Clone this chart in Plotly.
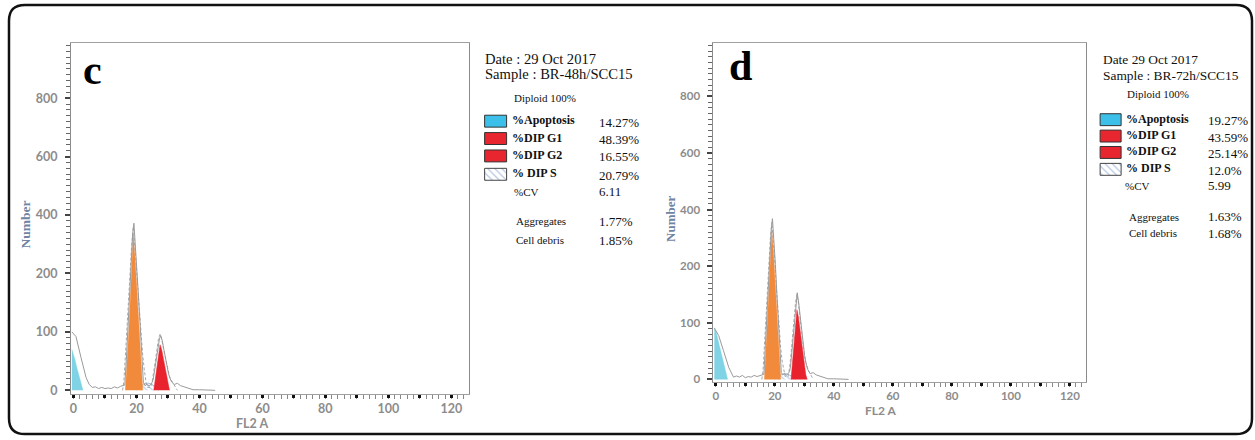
import plotly.graph_objects as go

W, H = 1255, 440

# ------------------------------------------------------------------
# DATA  (FL2 A channel vs Number of events)
# ------------------------------------------------------------------
# Panel c : BR-48h/SCC15
c_apo_x = [-0.5, 0, 0.5, 1, 1.5, 2, 2.5, 3]
c_apo_y = [70, 62, 52, 40, 30, 20, 10, 0]
c_g1_x = [16.5, 17, 17.5, 18, 18.5, 19, 19.5, 20, 20.5, 21, 21.5, 22]
c_g1_y = [0, 40, 95, 150, 206, 334, 262, 184, 138, 92, 46, 0]
c_g2_x = [25.5, 26, 26.5, 27, 27.5, 28, 28.5, 29, 29.5, 30, 30.5]
c_g2_y = [0, 18, 38, 60, 78, 70, 55, 40, 25, 10, 0]
c_s_x = [20, 21, 22, 23, 24, 25, 26, 27]
c_s_y = [0, 6, 10, 12, 12, 10, 6, 0]
c_raw_x = [-0.5, 0.8, 2.4, 4, 5, 6, 7, 8, 9, 10, 11, 12, 13, 14, 15, 15.8,
           16.3, 16.8, 17.3, 17.8, 18.3, 18.8, 19.2, 19.7, 20.2, 20.7, 21.2,
           21.7, 22.2, 22.7, 23.2, 24, 24.5, 25, 25.3, 25.8, 26.3, 26.8, 27.3,
           27.7, 28.2, 28.7, 29.2, 29.7, 30.2, 30.7, 31.2, 32, 33, 34, 35, 36,
           37, 38, 40, 42, 45]
c_raw_y = [100, 92, 56, 22, 10, 5, 6, 3, 5, 3, 4, 3, 6, 4, 7, 8,
           9, 53, 107, 160, 228, 334, 372, 296, 204, 156, 110,
           64, 14, 8, 10, 8, 10, 14, 18, 35, 55, 72, 88,
           94, 85, 70, 55, 40, 28, 20, 14, 10, 12, 8, 6, 4,
           2, 1, 1, 1, 0]
c_fit_x = [15.6, 16, 16.5, 17, 17.5, 18, 18.5, 19, 19.5, 20, 20.5, 21, 21.5,
           22, 22.5, 23, 23.5, 24.5, 25, 25.5, 26, 26.5, 27, 27.5, 28, 28.5,
           29, 29.5, 30, 30.5, 31, 31.5, 32, 32.5, 33]
c_fit_y = [0, 15, 60, 110, 160, 215, 300, 360, 300, 220, 170, 130, 95,
           60, 35, 15, 5, 5, 15, 30, 50, 70, 88, 96, 88, 74,
           60, 46, 34, 24, 18, 14, 10, 5, 0]

# Panel d : BR-72h/SCC15
d_apo_x = [-0.5, 0, 0.5, 1, 1.5, 2, 2.5, 3, 3.5, 4]
d_apo_y = [91, 85, 75, 62, 52, 42, 32, 20, 8, 0]
d_g1_x = [16.5, 17, 17.5, 18, 18.5, 19, 19.5, 20, 20.5, 21, 21.5, 22]
d_g1_y = [0, 49, 98, 147, 200, 327, 255, 181, 132, 83, 34, 0]
d_g2_x = [25.5, 26, 26.5, 27, 27.5, 28, 28.5, 29, 29.5, 30, 30.5, 31]
d_g2_y = [0, 30, 58, 90, 123, 110, 90, 70, 50, 30, 8, 0]
d_s_x = [20, 21, 22, 23, 24, 25, 26, 27]
d_s_y = [0, 5, 8, 10, 10, 8, 5, 0]
d_raw_x = [-0.5, 1.0, 2.6, 4.4, 6, 7, 8, 9, 10, 11, 12, 13, 14, 15, 15.8,
           16.3, 16.8, 17.3, 17.8, 18.3, 18.8, 19.2, 19.7, 20.2, 20.7, 21.2,
           21.7, 22.2, 22.7, 23.2, 24, 24.5, 25, 25.3, 25.8, 26.3, 26.8, 27.3,
           27.6, 28.1, 28.6, 29.1, 29.6, 30.1, 30.6, 31.1, 32, 33, 34, 35, 36,
           37, 38, 40, 42, 45]
d_raw_y = [91, 77, 51, 21, 4, 6, 4, 7, 3, 5, 4, 7, 5, 7, 8,
           9, 60, 115, 170, 240, 330, 368, 300, 206, 150, 100,
           55, 12, 8, 10, 8, 10, 14, 22, 50, 80, 110, 140,
           153, 135, 110, 85, 62, 42, 28, 18, 10, 12, 8, 6, 4,
           2, 1, 1, 1, 0]
d_fit_x = [15.6, 16, 16.5, 17, 17.5, 18, 18.5, 19, 19.5, 20, 20.5, 21, 21.5,
           22, 22.5, 23, 23.5, 24.5, 25, 25.5, 26, 26.5, 27, 27.5, 28, 28.5,
           29, 29.5, 30, 30.5, 31, 31.5, 32, 32.5, 33]
d_fit_y = [0, 15, 62, 115, 165, 220, 300, 355, 295, 215, 165, 125, 90,
           55, 32, 14, 5, 5, 20, 45, 75, 105, 135, 150, 135, 110,
           85, 62, 44, 30, 20, 14, 10, 5, 0]

# tick labels
y_tick_labels = [0, 100, 200, 400, 600, 800]
x_tick_values = [0, 10, 20, 30, 40, 50, 60, 70, 80, 90, 100, 110, 120]

# Text panels
c_date = "Date : 29 Oct 2017"
c_sample = "Sample : BR-48h/SCC15"
d_date = "Date 29 Oct 2017"
d_sample = "Sample : BR-72h/SCC15"
phase_labels = ["%Apoptosis", "%DIP G1", "%DIP G2", "% DIP S"]
c_phase_values = ["14.27%", "48.39%", "16.55%", "20.79%"]
d_phase_values = ["19.27%", "43.59%", "25.14%", "12.0%"]
c_cv, d_cv = "6.11", "5.99"
c_aggregates, d_aggregates = "1.77%", "1.63%"
c_debris, d_debris = "1.85%", "1.68%"


# ------------------------------------------------------------------
# Y scale used by the instrument print-out: compressed above 200
def yscale(v):
    return v if v <= 200 else 200 + (v - 200) / 2.0


def ys(arr):
    return [yscale(v) for v in arr]


CYAN = "#7fd3e4"
ORANGE = "#f28a3b"
RED = "#e9232d"
GRAY = "#9a9a9a"

fig = go.Figure()


def add_panel(xa, ya, apo, g1, g2, s, raw, fit):
    kw = dict(xaxis=xa, yaxis=ya, showlegend=False, hoverinfo="skip",
              mode="lines")
    fig.add_trace(go.Scatter(x=s[0], y=ys(s[1]), fill="tozeroy",
                             line=dict(color="#8fb0dc", width=0.8),
                             fillcolor="rgba(0,0,0,0)",
                             fillpattern=dict(shape="\\", fgcolor="#7da3d8",
                                              bgcolor="rgba(255,255,255,0)",
                                              size=4, solidity=0.35), **kw))
    fig.add_trace(go.Scatter(x=apo[0], y=ys(apo[1]), fill="tozeroy",
                             line=dict(color=CYAN, width=0.5),
                             fillcolor=CYAN, **kw))
    fig.add_trace(go.Scatter(x=g1[0], y=ys(g1[1]), fill="tozeroy",
                             line=dict(color=ORANGE, width=0.5),
                             fillcolor=ORANGE, **kw))
    fig.add_trace(go.Scatter(x=g2[0], y=ys(g2[1]), fill="tozeroy",
                             line=dict(color=RED, width=0.5),
                             fillcolor=RED, **kw))
    fig.add_trace(go.Scatter(x=fit[0], y=ys(fit[1]),
                             line=dict(color="#a8a8a8", width=1, dash="3px,2px"),
                             **kw))
    fig.add_trace(go.Scatter(x=raw[0], y=ys(raw[1]),
                             line=dict(color=GRAY, width=1), **kw))


add_panel("x", "y", (c_apo_x, c_apo_y), (c_g1_x, c_g1_y), (c_g2_x, c_g2_y),
          (c_s_x, c_s_y), (c_raw_x, c_raw_y), (c_fit_x, c_fit_y))
add_panel("x2", "y2", (d_apo_x, d_apo_y), (d_g1_x, d_g1_y), (d_g2_x, d_g2_y),
          (d_s_x, d_s_y), (d_raw_x, d_raw_y), (d_fit_x, d_fit_y))


def px(x):
    return x / W


def py(y):
    return 1 - y / H


tickfont_c = dict(family="Lato", size=12.5, color="#8c8c8c", weight="bold")
tickfont_d = dict(family="Lato", size=11.5, color="#8c8c8c", weight="bold")


def xaxis_cfg(dom, anchor, font):
    return dict(domain=dom, anchor=anchor, range=[-0.8, 125.5],
                showgrid=False, zeroline=False, showline=True,
                linecolor="#a0a0a0", linewidth=1, mirror=True,
                tickmode="array", tickvals=x_tick_values,
                ticktext=[str(v) if v % 20 == 0 else "" for v in x_tick_values],
                ticks="outside", ticklen=3, tickwidth=3, tickcolor="#111",
                tickfont=font,
                minor=dict(tickmode="linear", tick0=0, dtick=2,
                           ticks="outside", ticklen=4, tickcolor="#888",
                           tickwidth=1, showgrid=False))


def yaxis_cfg(dom, anchor, rng, font):
    return dict(domain=dom, anchor=anchor, range=rng,
                showgrid=False, zeroline=False, showline=True,
                linecolor="#8a8a8a", linewidth=1, mirror=True,
                tickmode="array", tickvals=[yscale(v) for v in y_tick_labels],
                ticktext=[str(v) for v in y_tick_labels],
                ticks="outside", ticklen=5, tickwidth=1.5, tickcolor="#444",
                tickfont=font, ticklabelstandoff=5,
                minor=dict(tickmode="linear", tick0=0, dtick=10,
                           ticks="outside", ticklen=4, tickcolor="#666",
                           tickwidth=1, showgrid=False))


fig.update_layout(
    width=W, height=H,
    margin=dict(l=0, r=0, t=0, b=0),
    paper_bgcolor="white", plot_bgcolor="rgba(0,0,0,0)",
    xaxis=xaxis_cfg([px(70), px(468)], "y", tickfont_c),
    yaxis=yaxis_cfg([py(397), py(43)], "x", [-6.8, 595], tickfont_c),
    xaxis2=xaxis_cfg([px(713), px(1086)], "y2", tickfont_d),
    yaxis2=yaxis_cfg([py(385), py(43)], "x2", [-5.3, 595], tickfont_d),
    xaxis3=dict(domain=[0, 1], anchor="y3", range=[0, W], visible=False,
                fixedrange=True),
    yaxis3=dict(domain=[0, 1], anchor="x3", range=[H, 0], visible=False,
                fixedrange=True),
)

ann = []
shapes = []
SERIF = "Liberation Serif"


def text(x, y, s, size, color="#111", bold=False, xanchor="left",
         family=SERIF, angle=0):
    ann.append(dict(x=x, y=y, xref="x3", yref="y3", text=s, showarrow=False,
                    xanchor=xanchor, yanchor="middle", textangle=angle,
                    font=dict(family=family, size=size, color=color,
                              weight="bold" if bold else "normal")))


# Panel letters and axis titles
text(92, 70, "c", 42, "#000", True, "center")
text(740, 66, "d", 42, "#000", True, "center")
text(24, 226, "Number", 13.5, "#6f84a3", True, "center", angle=-90)
text(670, 220, "Number", 13, "#6f84a3", True, "center", angle=-90)
text(251, 426, "FL2 A", 12.5, "#8c8c8c", True, "center", family="Lato")
text(881, 413, "FL2 A", 12, "#8c8c8c", True, "center", family="Lato")


def info_block(date, sample, values, cv, agg, debris, lay):
    fs = lay["fs"]
    text(lay["x0"], lay["date_y"], date, fs)
    text(lay["x0"], lay["sample_y"], sample, fs)
    text(lay["xd"], lay["dip_y"], "Diploid 100%", 11)
    colors = ["#3cbfe8", "#e8262f", "#e8262f", None]
    for i, (lab, val) in enumerate(zip(phase_labels, values)):
        yc = lay["rows"][i]
        bx0, bx1 = lay["bx"]
        y0, y1 = yc - 6, yc + 6
        if colors[i]:
            shapes.append(dict(type="rect", xref="x3", yref="y3", x0=bx0,
                               x1=bx1, y0=y0, y1=y1, fillcolor=colors[i],
                               line=dict(color="#333", width=1)))
        else:
            fig.add_trace(go.Scatter(
                x=[bx0, bx1, bx1, bx0, bx0], y=[y0, y0, y1, y1, y0],
                xaxis="x3", yaxis="y3", mode="lines", fill="toself",
                fillcolor="white", line=dict(color="#444", width=1),
                fillpattern=dict(shape="\\", fgcolor="#6d8fc4",
                                 bgcolor="white", size=5, solidity=0.25),
                showlegend=False, hoverinfo="skip"))
        text(bx1 + 3, yc - 1, lab, 12, bold=True)
        text(lay["xv"], yc + 1, val, 13)
    text(lay["xl"], lay["cv_y"], "%CV", 11)
    text(lay["xv"], lay["cv_y"], cv, 13)
    text(lay["xa"], lay["agg_y"], "Aggregates", 11)
    text(lay["xv"], lay["agg_y"], agg, 13)
    text(lay["xa"], lay["deb_y"], "Cell debris", 11)
    text(lay["xv"], lay["deb_y"], debris, 13)


info_block(c_date, c_sample, c_phase_values, c_cv, c_aggregates, c_debris,
           dict(fs=14.6, x0=482, date_y=59, sample_y=75, xd=511, dip_y=99,
                rows=[122, 139.5, 157, 175.5], bx=(484, 506), xv=596,
                xl=511, cv_y=193, xa=513, agg_y=223, deb_y=242))
info_block(d_date, d_sample, d_phase_values, d_cv, d_aggregates, d_debris,
           dict(fs=13.4, x0=1101, date_y=60, sample_y=76, xd=1125, dip_y=95,
                rows=[120.5, 137, 153.5, 170.5], bx=(1100, 1121), xv=1206,
                xl=1123, cv_y=187, xa=1127, agg_y=218, deb_y=235))

# rounded outer frame
r = 16
L, T, R, B = 8, 5, 1252, 437
path = (f"M {L+r},{T} L {R-r},{T} Q {R},{T} {R},{T+r} L {R},{B-r} "
        f"Q {R},{B} {R-r},{B} L {L+r},{B} Q {L},{B} {L},{B-r} "
        f"L {L},{T+r} Q {L},{T} {L+r},{T} Z")
shapes.append(dict(type="path", xref="x3", yref="y3", path=path,
                   line=dict(color="#111", width=2.5)))

fig.update_layout(annotations=ann, shapes=shapes)
fig.write_html("out.html",
               config={"displayModeBar": False},
               post_script="document.body.style.margin='0px';")
